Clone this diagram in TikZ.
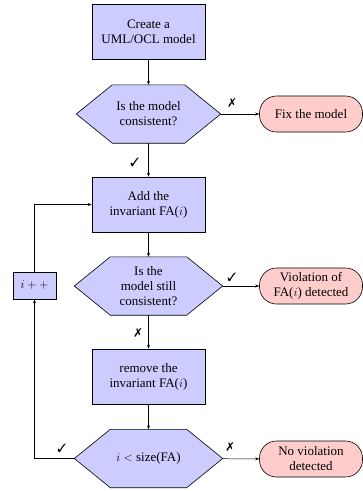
\documentclass[tikz,border=0pt]{standalone}
\usepackage{fontspec}
\setmainfont{Liberation Serif}
\usepackage{pifont}
\usetikzlibrary{arrows.meta,backgrounds}

\newcommand{\yes}{\ding{51}}
\newcommand{\no}{\ding{55}}

\tikzset{
  x=1pt, y=1pt,
  every node/.style={font=\fontsize{13}{15}\selectfont, align=center, inner sep=0pt},
  procbox/.style={draw, line width=0.6pt, fill=blue!20, minimum width=113pt, minimum height=55pt},
  decision/.style={minimum width=148pt, minimum height=58pt},
  hexshape/.style={draw, line width=0.6pt, fill=blue!20},
  endbox/.style={draw, line width=0.6pt, fill=red!20, rounded corners=17pt, minimum width=103pt, minimum height=36pt},
  incbox/.style={draw, line width=0.6pt, fill=blue!20, minimum width=43pt, minimum height=27pt},
  flow/.style={draw, line width=0.5pt, -{Stealth[length=4pt,width=3pt]}},
  branchmark/.style={font=\fontsize{12}{12}\selectfont}
}

\begin{document}
\begin{tikzpicture}
\useasboundingbox (0,0) rectangle (363,-491);

% process steps
\node[procbox] (create) at (148.5,-31.5) {Create a\\UML/OCL model};
\node[decision, minimum width=144pt] (cons) at (148.5,-114) {Is the model\\consistent?};
\node[endbox] (fix) at (311,-114) {Fix the model};
\node[procbox] (add) at (148.5,-204.5) {Add the\\invariant FA($i$)};
\node[decision] (still) at (148.5,-286) {Is the\\model still\\consistent?};
\node[endbox] (viol) at (311,-286) {Violation of\\FA($i$) detected};
\node[incbox] (inc) at (34.5,-285.5) {$i++$};
\node[procbox] (remove) at (148.5,-376.5) {remove the\\invariant FA($i$)};
\node[decision] (loop) at (148.5,-458.5) {$i<$ size(FA)};
\node[endbox] (nov) at (311,-459) {No violation\\detected};

% hexagonal outlines of the decisions, behind their texts
\begin{scope}[on background layer]
\foreach \d in {cons,still,loop}
  \path[hexshape] (\d.west) -- ([xshift=36pt]\d.north west) -- ([xshift=-36pt]\d.north east)
    -- (\d.east) -- ([xshift=-36pt]\d.south east) -- ([xshift=36pt]\d.south west) -- cycle;
\end{scope}

% connectors
\coordinate (upturn) at (34.5,-204.5);
\coordinate (downturn) at (34.5,-458.5);
\path[flow] (create) -- (cons);
\path[flow] (cons) -- (fix);
\path[flow] (cons) -- (add);
\path[flow] (add) -- (still);
\path[flow] (still) -- (viol);
\path[flow] (still) -- (remove);
\path[flow] (remove) -- (loop);
\path[flow] (loop) -- (nov);
\path[flow] (loop.west) -- (downturn) -- (inc.south);
\path[flow] (inc.north) -- (upturn) -- (add.west);

% branch marks
\node[branchmark] (m1) at (232,-103) {\no};
\node[branchmark] (m2) at (135,-162) {\yes};
\node[branchmark] (m3) at (232,-277) {\yes};
\node[branchmark] (m4) at (138,-333) {\no};
\node[branchmark] (m5) at (230,-447) {\no};
\node[branchmark] (m6) at (62,-448) {\yes};
\end{tikzpicture}
\end{document}
